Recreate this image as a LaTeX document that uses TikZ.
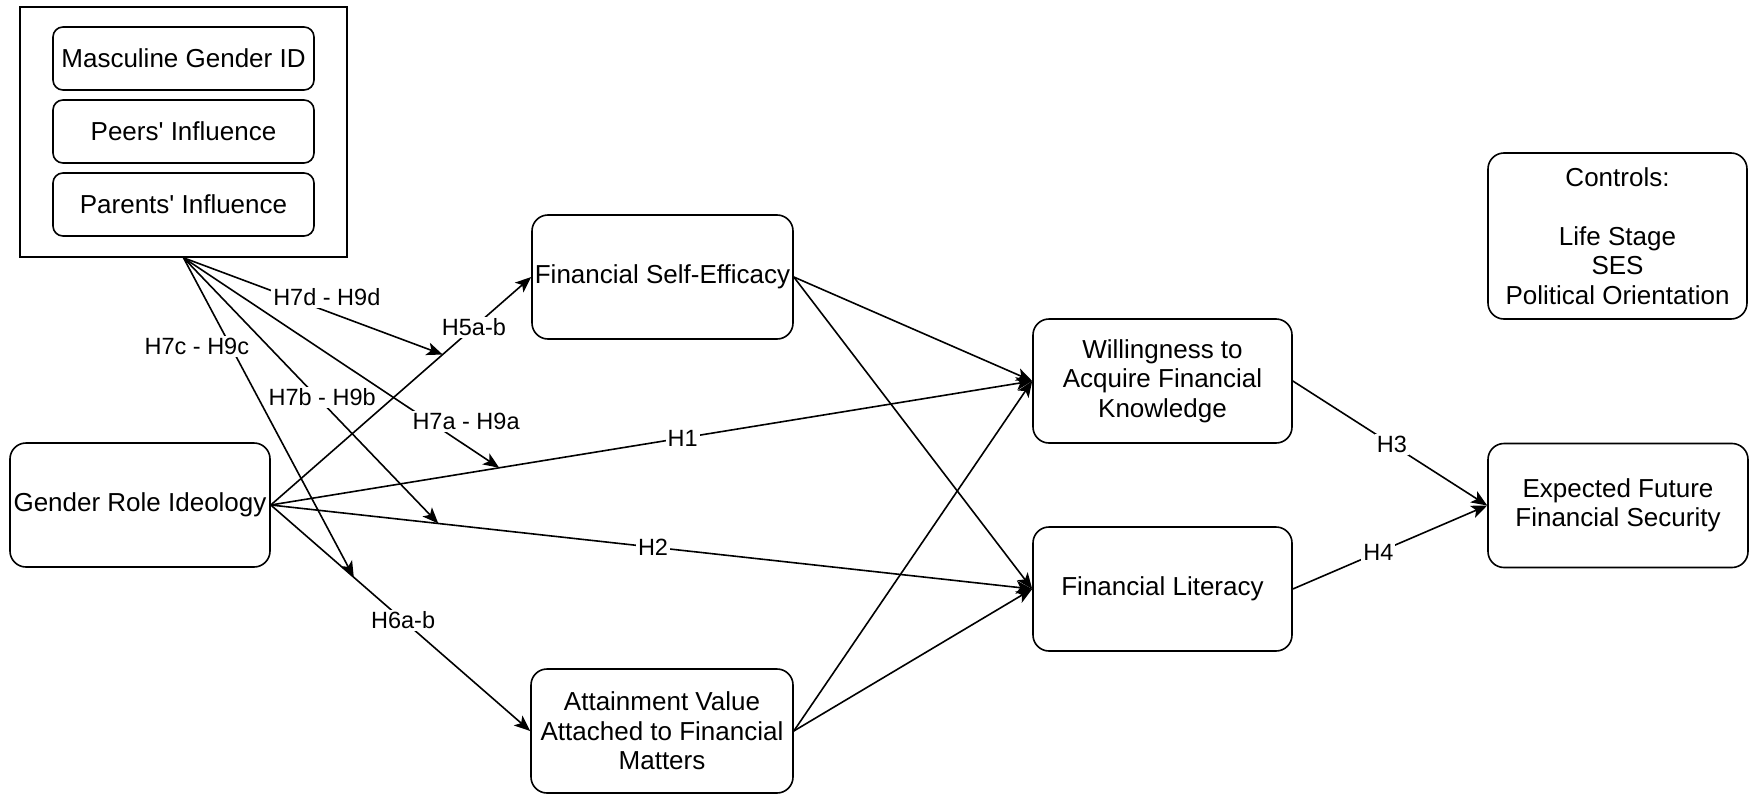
\documentclass[tikz,border=0pt]{standalone}
\usepackage{fontspec}
\setmainfont{Liberation Sans}[Ligatures=TeXOff]
\usetikzlibrary{arrows.meta}
\begin{document}
\begin{tikzpicture}[x=1pt,y=-1pt,
  box/.style={draw, line width=1.6pt, rounded corners=16pt, minimum width=260pt, minimum height=124pt, align=center, inner sep=0pt, font=\fontsize{26}{29.5}\selectfont},
  sbox/.style={box, rounded corners=10pt, minimum width=261pt, minimum height=63pt},
  arr/.style={line width=1.6pt, -{Stealth[length=16pt,width=13pt,inset=4pt]}},
  lbl/.style={fill=white, inner sep=2pt, font=\fontsize{23.5}{26}\selectfont},
]
\useasboundingbox (0,0) rectangle (1751,795);
\node[draw, line width=1.6pt, minimum width=327pt, minimum height=250pt, inner sep=0pt] (grp) at (183.5,132) {};
\node[sbox] (masc) at (183.5,58.5) {Masculine Gender ID};
\node[sbox] (peer) at (183.5,131.5) {Peers' Influence};
\node[sbox] (par) at (183.5,204.5) {Parents' Influence};
\node[box] (gri) at (140,505) {Gender Role Ideology};
\node[box, minimum width=261pt] (fse) at (662.5,277) {Financial Self-Efficacy};
\node[box, minimum width=262pt] (att) at (662,731) {Attainment Value\\Attached to Financial\\Matters};
\node[box, minimum width=259pt] (wil) at (1162.5,381) {Willingness to\\Acquire Financial\\Knowledge};
\node[box, minimum width=259pt] (fl) at (1162.5,589) {Financial Literacy};
\node[box] (exp) at (1618,505.5) {Expected Future\\Financial Security};
\node[box, minimum width=259pt, minimum height=166pt] (ctl) at (1617.5,236) {Controls:\\[29.5pt]Life Stage\\SES\\Political Orientation};

\path (gri.east) -- coordinate[pos=0.3] (p1) (wil.west);
\path (gri.east) -- coordinate[pos=0.22] (p2) (fl.west);
\path (gri.east) -- coordinate[pos=0.32] (p6) (att.west);
\path (gri.east) -- coordinate[pos=0.66] (p5) (fse.west);

\draw[arr] (gri.east) -- node[lbl,pos=0.78]{H5a-b} (fse.west);
\draw[arr] (gri.east) -- node[lbl,pos=0.541]{H1} (wil.west);
\draw[arr] (gri.east) -- node[lbl,pos=0.502]{H2} (fl.west);
\draw[arr] (gri.east) -- node[lbl,pos=0.51]{H6a-b} (att.west);
\draw[arr] (fse.east) -- (wil.west);
\draw[arr] (fse.east) -- (fl.west);
\draw[arr] (att.east) -- (wil.west);
\draw[arr] (att.east) -- (fl.west);
\draw[arr] (wil.east) -- node[lbl,pos=0.51]{H3} (exp.west);
\draw[arr] (fl.east) -- node[lbl,pos=0.44]{H4} (exp.west);

\draw[arr] (grp.south) -- node[lbl, pos=0.553, yshift=14pt]{H7d - H9d} (p5);
\draw[arr] (grp.south) -- node[lbl, pos=0.278, xshift=-34pt]{H7c - H9c} (p6);
\draw[arr] (grp.south) -- node[lbl, pos=0.544, yshift=5pt]{H7b - H9b} (p2);
\draw[arr] (grp.south) -- node[lbl, pos=0.895, yshift=24pt]{H7a - H9a} (p1);
\end{tikzpicture}
\end{document}
